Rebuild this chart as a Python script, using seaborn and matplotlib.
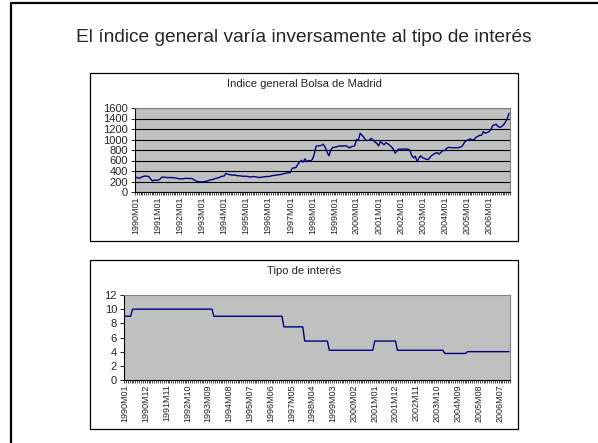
import numpy as np
import pandas as pd
import matplotlib
matplotlib.use('agg')
import matplotlib.pyplot as plt
from matplotlib.patches import Rectangle
from matplotlib.lines import Line2D
import seaborn as sns

# monthly series 1990M01 - 2006M12
years = list(range(1990, 2007))
months = [f"{y}M{m:02d}" for y in years for m in range(1, 13)]

indice_general = [
    280, 270, 260, 285, 295, 305, 300, 295, 250, 210, 225, 225,      # 1990
    225, 240, 280, 285, 280, 275, 275, 275, 275, 270, 265, 255,      # 1991
    250, 250, 255, 260, 262, 255, 260, 245, 225, 205, 195, 195,      # 1992
    190, 195, 205, 210, 225, 235, 240, 255, 265, 270, 290, 300,      # 1993
    305, 355, 340, 330, 325, 320, 325, 310, 310, 305, 300, 300,      # 1994
    300, 295, 285, 290, 295, 290, 285, 275, 280, 285, 290, 295,      # 1995
    295, 300, 310, 315, 320, 325, 330, 335, 345, 355, 360, 365,      # 1996
    370, 450, 460, 465, 520, 570, 600, 570, 630, 580, 600, 590,      # 1997
    620, 720, 870, 880, 880, 890, 910, 850, 760, 690, 800, 850,      # 1998
    850, 860, 870, 880, 870, 880, 880, 870, 840, 860, 870, 880,      # 1999
    1000, 980, 1120, 1080, 1040, 990, 980, 990, 1020, 990, 950, 930,  # 2000
    880, 960, 930, 900, 940, 920, 890, 860, 820, 740, 780, 820,      # 2001
    810, 820, 820, 815, 820, 800, 700, 650, 680, 580, 650, 690,      # 2002
    650, 640, 620, 620, 660, 700, 720, 740, 750, 720, 760, 790,      # 2003
    790, 830, 850, 850, 840, 845, 840, 845, 850, 860, 900, 960,      # 2004
    980, 1000, 1010, 990, 1000, 1040, 1060, 1080, 1080, 1150, 1120, 1130,  # 2005
    1150, 1180, 1260, 1280, 1290, 1250, 1230, 1250, 1280, 1330, 1400, 1500,  # 2006
]

# interest rate: level held for a number of months
tipo_niveles = [9.0, 10.0, 9.0, 7.5, 5.5, 4.2, 5.5, 4.2, 3.75, 4.0]
tipo_meses = [4, 43, 37, 11, 13, 24, 12, 25, 12, 23]

ticks_indice = ["1990M01", "1991M01", "1992M01", "1993M01", "1994M01", "1995M01",
                "1996M01", "1997M01", "1998M01", "1999M01", "2000M01", "2001M01",
                "2002M01", "2003M01", "2004M01", "2005M01", "2006M01"]
ticks_tipo = ["1990M01", "1990M12", "1991M11", "1992M10", "1993M09", "1994M08",
              "1995M07", "1996M06", "1997M05", "1998M04", "1999M03", "2000M02",
              "2001M01", "2001M12", "2002M11", "2003M10", "2004M09", "2005M08",
              "2006M07"]

df = pd.DataFrame({
    'mes': np.arange(len(months)),
    'indice': indice_general,
    'tipo': np.repeat(tipo_niveles, tipo_meses),
})

sns.set_style("white")
plt.rcParams['font.family'] = ['Liberation Sans', 'DejaVu Sans']

W, H = 598, 443
fig = plt.figure(figsize=(W / 100, H / 100), dpi=100)


def fx(x):
    return x / W


def fy(y):
    return 1 - y / H


# slide frame
fig.add_artist(Line2D([fx(11), fx(11)], [0, fy(3)], color='black', lw=1.6))
fig.add_artist(Line2D([fx(11), 1], [fy(3), fy(3)], color='black', lw=1.6))

fig.text(fx(304), fy(37), "El índice general varía inversamente al tipo de interés",
         ha='center', va='center', fontsize=13.8)

# chart boxes
for top, bottom in [(73, 241), (260, 429)]:
    fig.add_artist(Rectangle((fx(90), fy(bottom)), fx(518) - fx(90), fy(top) - fy(bottom),
                             transform=fig.transFigure, facecolor='white',
                             edgecolor='black', lw=0.9, zorder=-1))


def make_axes(left, top, right, bottom):
    return fig.add_axes([fx(left), fy(bottom), fx(right) - fx(left), fy(top) - fy(bottom)])


def style_axes(ax, tick_labels, ymax, ystep):
    ax.set_facecolor('#C0C0C0')
    for side in ['top', 'right']:
        ax.spines[side].set_color('#808080')
        ax.spines[side].set_linewidth(0.8)
    for side in ['left', 'bottom']:
        ax.spines[side].set_color('black')
        ax.spines[side].set_linewidth(0.8)
    ax.set_xlim(-0.5, len(months) - 0.5)
    ax.set_ylim(0, ymax)
    ax.set_yticks(np.arange(0, ymax + 1, ystep))
    ax.set_xticks([months.index(t) for t in tick_labels])
    ax.set_xticklabels(tick_labels, rotation=90)
    ax.set_xticks(np.arange(-0.5, len(months), 1), minor=True)
    ax.tick_params(axis='x', which='major', length=0, pad=3, labelsize=6.5)
    ax.tick_params(axis='x', which='minor', bottom=True, length=2.5, width=0.5,
                   direction='out', color='black')
    ax.tick_params(axis='y', left=True, length=3, width=0.6, direction='out',
                   pad=2, labelsize=8, color='black')
    ax.set_xlabel('')
    ax.set_ylabel('')


ax1 = make_axes(135, 108, 510, 192)
sns.lineplot(data=df, x='mes', y='indice', ax=ax1, color='#000080', lw=1.0)
style_axes(ax1, ticks_indice, 1600, 200)
ax1.grid(axis='y', color='black', lw=0.8)
ax1.set_axisbelow(True)
fig.text(fx(304), fy(84), "Indice general Bolsa de Madrid", ha='center', va='center',
         fontsize=8.1)

ax2 = make_axes(124, 295, 510, 380)
sns.lineplot(data=df, x='mes', y='tipo', ax=ax2, color='#000080', lw=1.0)
style_axes(ax2, ticks_tipo, 12, 2)
fig.text(fx(304), fy(271), "Tipo de interés", ha='center', va='center', fontsize=8.1)

fig.savefig('out.png', dpi=100)
